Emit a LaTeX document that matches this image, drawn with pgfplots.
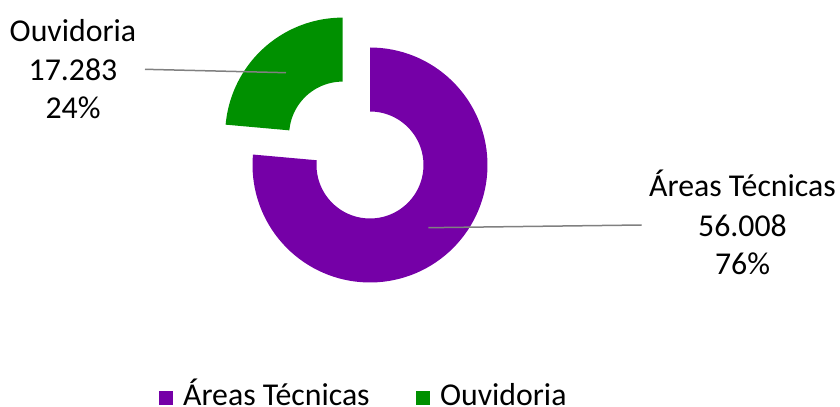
\documentclass[border=0pt]{standalone}
\usepackage{fontspec}
\setmainfont{Carlito}
\usepackage{pgfplots}
\pgfplotsset{compat=1.18}
\definecolor{pieP}{RGB}{117,0,167}
\definecolor{pieG}{RGB}{0,144,0}
\definecolor{lead}{RGB}{128,128,128}
% values (thousands)
\pgfmathsetmacro{\vA}{56.008}
\pgfmathsetmacro{\vB}{17.283}
\pgfmathsetmacro{\total}{\vA+\vB}
\pgfmathsetmacro{\spanA}{360*(\vA/\total)}
\pgfmathsetmacro{\spanB}{360*(\vB/\total)}
\pgfmathsetmacro{\aEnd}{90-\spanA}
\pgfmathsetmacro{\aMid}{\aEnd-\spanB/2}
\def\cx{370}\def\cy{242}\def\R{117.5}\def\r{53.5}\def\expl{40.5}
\pgfmathsetmacro{\gx}{\cx+\expl*cos(\aMid)}
\pgfmathsetmacro{\gy}{\cy+\expl*sin(\aMid)}
\newcommand{\lblfont}{\fontsize{31.8bp}{38bp}\selectfont}
\begin{document}
\begin{tikzpicture}
\begin{axis}[
  at={(0,0)}, anchor=south west,
  x=1bp, y=1bp, scale only axis,
  xmin=0, xmax=840, ymin=0, ymax=407,
  hide axis, clip=false,
  legend columns=2,
  legend style={draw=none, fill=none, inner sep=0pt, outer sep=0pt,
    at={(axis cs:159.3,1.6)}, anchor=south west,
    font=\lblfont,
    nodes={inner sep=0pt, text depth=0pt, anchor=base west},
    cells={anchor=base west},
    /tikz/every odd column/.append style={column sep=10.4bp},
    /tikz/every even column/.append style={column sep=46.6bp}},
]
% Áreas Técnicas (purple)
\addplot[fill=pieP, draw=none, forget plot, variable=\t,
  samples at={0,1,...,100,200,201,...,300}]
  ({\cx+(\t<=100 ? \R : \r)*cos(\t<=100 ? (90-\spanA*\t/100) : (\aEnd+\spanA*(\t-200)/100))},
   {\cy+(\t<=100 ? \R : \r)*sin(\t<=100 ? (90-\spanA*\t/100) : (\aEnd+\spanA*(\t-200)/100))});
% Ouvidoria (green, exploded)
\addplot[fill=pieG, draw=none, forget plot, variable=\t,
  samples at={0,1,...,100,200,201,...,300}]
  ({\gx+(\t<=100 ? \R : \r)*cos(\t<=100 ? (\aEnd-\spanB*\t/100) : (\aEnd-\spanB+\spanB*(\t-200)/100))},
   {\gy+(\t<=100 ? \R : \r)*sin(\t<=100 ? (\aEnd-\spanB*\t/100) : (\aEnd-\spanB+\spanB*(\t-200)/100))});
% leader lines
\addplot[lead, line width=1.5bp, forget plot] coordinates {(145,337.7) (286,334.3)};
\addplot[lead, line width=1.5bp, forget plot] coordinates {(428.3,179.3) (641.7,182)};
% labels
\begin{scope}[every node/.style={anchor=base, inner sep=0pt, font=\lblfont}]
\node at (axis cs:73,365.3) {Ouvidoria};
\node at (axis cs:73,327) {17.283};
\node at (axis cs:73,288.7) {24\%};
\node at (axis cs:742.5,210.3) {Áreas Técnicas};
\node at (axis cs:742.5,171) {56.008};
\node at (axis cs:742.5,132.7) {76\%};
\end{scope}
\addlegendimage{legend image code/.code={\fill[pieP] (0bp,1.7bp) rectangle (13bp,14.7bp);}}
\addlegendentry{Áreas Técnicas}
\addlegendimage{legend image code/.code={\fill[pieG] (0bp,1.7bp) rectangle (13bp,14.7bp);}}
\addlegendentry{Ouvidoria}
\end{axis}
\pgfresetboundingbox
\path (0,0) rectangle (840bp,407bp);
\end{tikzpicture}
\end{document}
